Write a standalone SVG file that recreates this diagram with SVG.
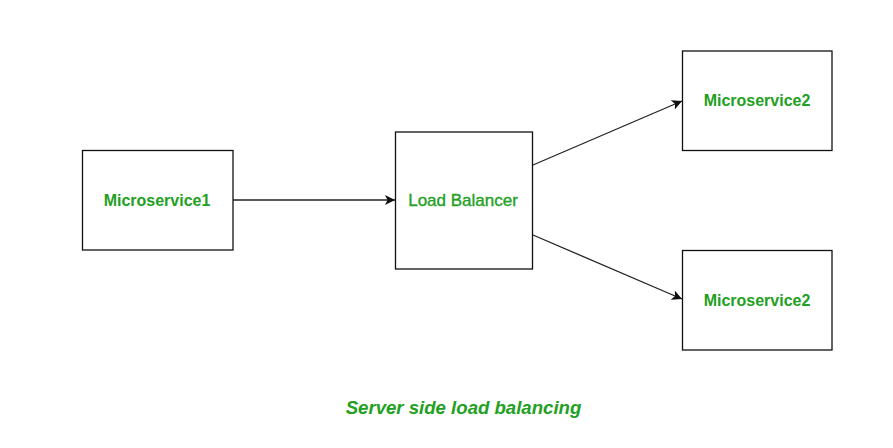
<svg xmlns="http://www.w3.org/2000/svg" width="893" height="448" viewBox="0 0 893 448">
<style>
.box{fill:#fff;stroke:#111;stroke-width:1.3}
.lbl{font-family:"Liberation Sans",Arial,sans-serif;fill:#22a022;text-anchor:middle}
.b{font-weight:bold;font-size:16px}
.c{stroke:#222;stroke-width:1.3;fill:none;marker-end:url(#ah)}
</style>
<defs>
<marker id="ah" viewBox="0 0 10 10" refX="10" refY="5" markerWidth="10" markerHeight="10" markerUnits="userSpaceOnUse" orient="auto">
<path d="M0,0 L10,5 L0,10 L2.5,5 Z" fill="#111"/>
</marker>
</defs>
<rect width="893" height="448" fill="#fff"/>
<g id="connectors">
<line class="c" x1="233" y1="200" x2="395" y2="200"/>
<line class="c" x1="533" y1="165" x2="682" y2="101"/>
<line class="c" x1="533" y1="235" x2="682" y2="299"/>
</g>
<g id="ms1">
<rect class="box" x="82.5" y="150.5" width="150.5" height="99.5"/>
<text class="lbl b" x="157" y="206">Microservice1</text>
</g>
<g id="lb">
<rect class="box" x="395.5" y="132" width="137" height="137"/>
<text class="lbl" x="463" y="206" font-size="17" stroke="#22a022" stroke-width="0.35">Load Balancer</text>
</g>
<g id="ms2a">
<rect class="box" x="682.5" y="51" width="149.5" height="99.5"/>
<text class="lbl b" x="757" y="106">Microservice2</text>
</g>
<g id="ms2b">
<rect class="box" x="682.5" y="250.5" width="149.5" height="99.5"/>
<text class="lbl b" x="757" y="306">Microservice2</text>
</g>
<text class="lbl" x="463.5" y="414" font-size="18.6" font-weight="bold" font-style="italic">Server side load balancing</text>
</svg>
